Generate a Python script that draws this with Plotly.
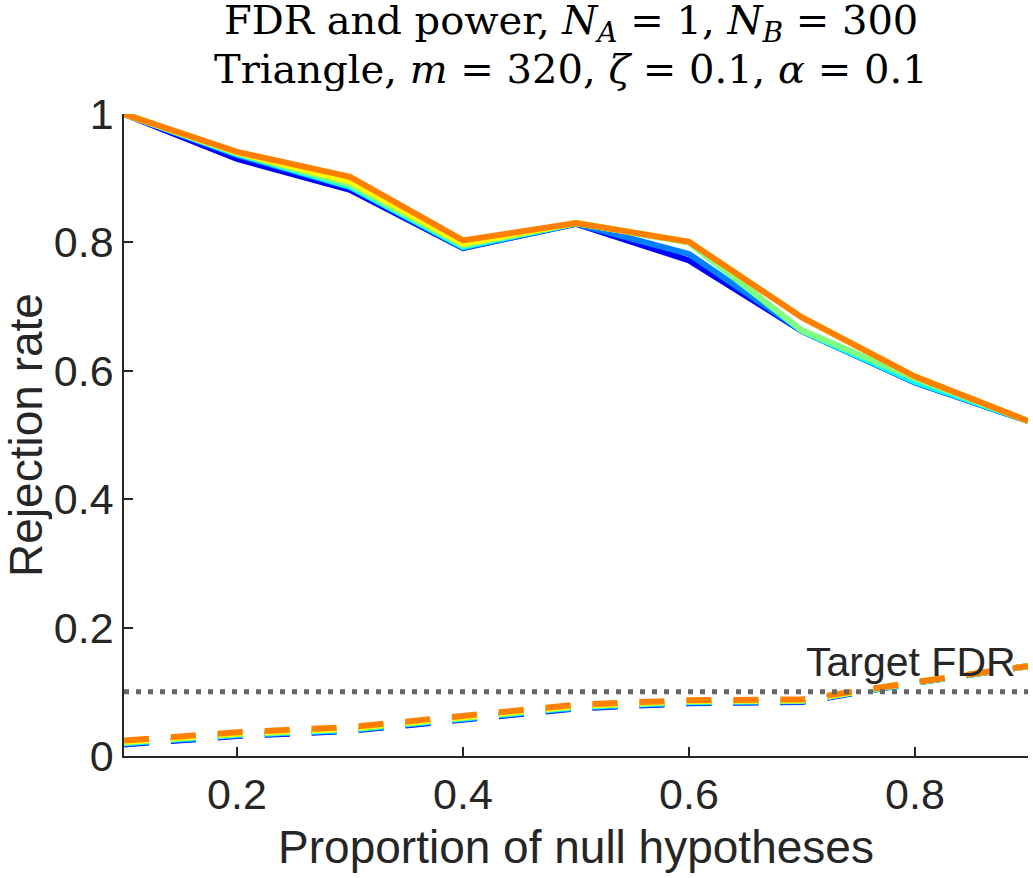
import plotly.graph_objects as go

# ---- data ----
null_prop = [0.1, 0.2, 0.3, 0.4, 0.5, 0.6, 0.7, 0.8, 0.9]

series_colors = ["#0000FF", "#0080FF", "#00FFFF", "#80FF80", "#FFFF00", "#FF8000"]

power_blue   = [1.000, 0.930, 0.882, 0.791, 0.829, 0.772, 0.662, 0.582, 0.522]
power_dodger = [1.000, 0.936, 0.886, 0.792, 0.829, 0.782, 0.662, 0.582, 0.522]
power_cyan   = [1.000, 0.938, 0.887, 0.793, 0.830, 0.800, 0.662, 0.583, 0.522]
power_green  = [1.000, 0.939, 0.890, 0.795, 0.830, 0.800, 0.663, 0.588, 0.522]
power_yellow = [1.000, 0.940, 0.895, 0.798, 0.830, 0.801, 0.683, 0.591, 0.522]
power_orange = [1.000, 0.941, 0.902, 0.803, 0.830, 0.801, 0.683, 0.591, 0.522]

fdr_blue   = [0.018, 0.031, 0.039, 0.057, 0.074, 0.082, 0.084, 0.114, 0.140]
fdr_dodger = [0.019, 0.032, 0.040, 0.058, 0.075, 0.083, 0.085, 0.114, 0.140]
fdr_cyan   = [0.020, 0.033, 0.041, 0.059, 0.076, 0.084, 0.086, 0.114, 0.140]
fdr_green  = [0.021, 0.034, 0.042, 0.060, 0.077, 0.085, 0.086, 0.115, 0.140]
fdr_yellow = [0.022, 0.035, 0.043, 0.061, 0.078, 0.086, 0.087, 0.115, 0.140]
fdr_orange = [0.024, 0.037, 0.045, 0.063, 0.080, 0.087, 0.088, 0.115, 0.140]

target_fdr = 0.1

x_ticks = [0.2, 0.4, 0.6, 0.8]
y_ticks = [0, 0.2, 0.4, 0.6, 0.8, 1.0]
y_ticktext = ["0", "0.2", "0.4", "0.6", "0.8", "1"]

title_line1 = ("FDR and power, <i>N</i><sub><i>A</i></sub> = 1, "
               "<i>N</i><sub><i>B</i></sub> = 300")
title_line2 = "Triangle, <i>m</i> = 320, <i>ζ</i> = 0.1, <i>α</i> = 0.1"

power_series = [power_blue, power_dodger, power_cyan, power_green, power_yellow, power_orange]
fdr_series = [fdr_blue, fdr_dodger, fdr_cyan, fdr_green, fdr_yellow, fdr_orange]

# ---- figure ----
fig = go.Figure()
INK = "#262626"
SANS = "Liberation Sans, Arial, sans-serif"
SERIF = "DejaVu Serif, serif"

for vals, col in zip(fdr_series, series_colors):
    fig.add_trace(go.Scatter(x=null_prop, y=vals, mode="lines",
                             line=dict(color=col, width=6, dash="25px,22px"),
                             hoverinfo="skip"))
for vals, col in zip(power_series, series_colors):
    fig.add_trace(go.Scatter(x=null_prop, y=vals, mode="lines",
                             line=dict(color=col, width=6),
                             hoverinfo="skip"))

fig.add_trace(go.Scatter(x=[null_prop[0], null_prop[-1]], y=[target_fdr, target_fdr],
                         mode="lines", line=dict(color="#666666", width=5, dash="5px,7px"),
                         hoverinfo="skip"))

fig.add_annotation(x=null_prop[-1], y=target_fdr, xref="x", yref="y",
                   text="Target FDR", showarrow=False, xanchor="right", yanchor="bottom",
                   xshift=-10, yshift=5,
                   font=dict(family=SANS, size=41, color=INK))

fig.add_annotation(x=0.495, y=1.141, xref="paper", yref="paper", text=title_line1,
                   showarrow=False, xanchor="center", yanchor="middle",
                   height=44, valign="middle",
                   font=dict(family=SERIF, size=40, color="black"))
fig.add_annotation(x=0.495, y=1.070, xref="paper", yref="paper", text=title_line2,
                   showarrow=False, xanchor="center", yanchor="middle",
                   height=44, valign="middle",
                   font=dict(family=SERIF, size=40, color="black"))

fig.update_layout(
    width=1033, height=878,
    paper_bgcolor="white", plot_bgcolor="white",
    showlegend=False,
    margin=dict(l=124, r=5, t=114, b=122, autoexpand=False),
    xaxis=dict(range=[0.1, 0.9], tickvals=x_ticks, ticktext=[str(v) for v in x_ticks],
               ticks="inside", ticklen=9, tickwidth=1.5, tickcolor=INK,
               showline=True, linecolor=INK, linewidth=1.5,
               showgrid=False, zeroline=False, automargin=False,
               tickfont=dict(family=SANS, size=43, color=INK),
               title=dict(text="Proportion of null hypotheses", standoff=13,
                          font=dict(family=SANS, size=46, color=INK))),
    yaxis=dict(range=[0, 1], tickvals=y_ticks, ticktext=y_ticktext,
               ticks="inside", ticklen=9, tickwidth=1.5, tickcolor=INK,
               showline=True, linecolor=INK, linewidth=1.5,
               showgrid=False, zeroline=False, automargin=True,
               tickfont=dict(family=SANS, size=43, color=INK),
               title=dict(text="Rejection rate", standoff=20,
                          font=dict(family=SANS, size=46, color=INK))),
)

fig.write_html("out.html", config={"displayModeBar": False},
               post_script="document.body.style.margin='0px';")
